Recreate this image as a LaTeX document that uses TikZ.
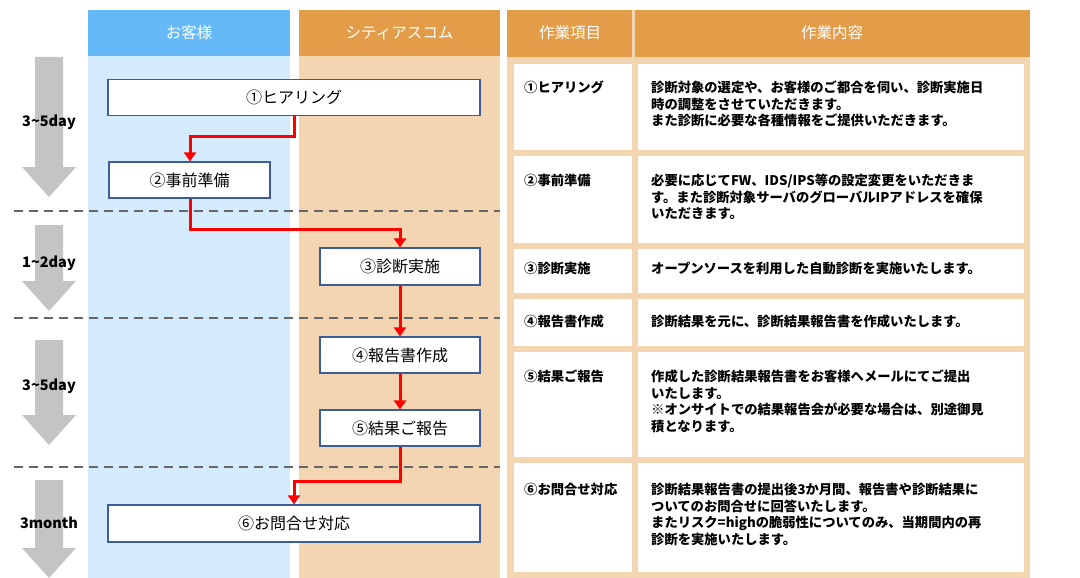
\documentclass[tikz,border=0pt]{standalone}
\usepackage{fontspec}
\setmainfont{Noto Sans CJK JP}
\usetikzlibrary{arrows.meta}
\definecolor{hblue}{HTML}{66B9F7}
\definecolor{bblue}{HTML}{D3EBFC}
\definecolor{horange}{HTML}{E39D48}
\definecolor{borange}{HTML}{F3D5B2}
\definecolor{bdr}{HTML}{3D5C9E}
\definecolor{garrow}{HTML}{C4C4C4}
\tikzset{
 flowbox/.style={draw=bdr,line width=1.2pt,fill=white,inner sep=0pt,font=\fontsize{16}{18}\selectfont},
 hdr/.style={text=white,font=\fontsize{15.5}{17}\selectfont},
 cell/.style={fill=white,draw=none},
 ctext/.style={anchor=north west,align=left,font=\bfseries\fontsize{13.3}{16.5}\selectfont,inner sep=0pt},
 redflow/.style={red,line width=3pt,-{Triangle[length=9pt,width=12pt]}},
 dayl/.style={font=\bfseries\fontsize{14.5}{16}\selectfont},
}
\begin{document}
\begin{tikzpicture}[x=1pt,y=-1pt]
\useasboundingbox (0,0) rectangle (1080,578);
% columns
\fill[hblue] (88,10) rectangle (290,56);
\fill[bblue] (88,56) rectangle (290,578);
\fill[horange] (299,10) rectangle (500,56);
\fill[borange] (299,56) rectangle (500,578);
\node[hdr] (hc) at (189,33) {お客様};
\node[hdr] (hs) at (399.5,33) {シティアスコム};
% table
\fill[borange] (507,10) rectangle (1030,578);
\fill[horange] (507,10) rectangle (632,57);
\fill[horange] (635,10) rectangle (1030,57);
\node[hdr] (h1) at (570,33) {作業項目};
\node[hdr] (h2) at (832,33) {作業内容};
\foreach \a/\b in {64/150,156/243,249/293,299/346,352/457,463/572}{
 \fill[cell] (514,\a) rectangle (632,\b);
 \fill[cell] (638,\a) rectangle (1024,\b);
}
\node[ctext] (l1) at (524,81) {①ヒアリング};
\node[ctext] (l2) at (524,174) {②事前準備};
\node[ctext] (l3) at (524,262) {③診断実施};
\node[ctext] (l4) at (524,315) {④報告書作成};
\node[ctext] (l5) at (524,370) {⑤結果ご報告};
\node[ctext] (l6) at (524,483) {⑥お問合せ対応};
\node[ctext] (r1) at (651,81) {診断対象の選定や、お客様のご都合を伺い、診断実施日\\時の調整をさせていただきます。\\また診断に必要な各種情報をご提供いただきます。};
\node[ctext] (r2) at (651,174) {必要に応じてFW、IDS/IPS等の設定変更をいただきま\\す。また診断対象サーバのグローバルIPアドレスを確保\\いただきます。};
\node[ctext] (r3) at (651,262) {オープンソースを利用した自動診断を実施いたします。};
\node[ctext] (r4) at (651,315) {診断結果を元に、診断結果報告書を作成いたします。};
\node[ctext] (r5) at (651,370) {作成した診断結果報告書をお客様へメールにてご提出\\いたします。\\※オンサイトでの結果報告会が必要な場合は、別途御見\\積となります。};
\node[ctext] (r6) at (651,483) {診断結果報告書の提出後3か月間、報告書や診断結果に\\ついてのお問合せに回答いたします。\\またリスク=highの脆弱性についてのみ、当期間内の再\\診断を実施いたします。};
% dashed
\foreach \y in {211,318,467}
 \draw[dash pattern=on 9pt off 6pt,line width=1.2pt,color=black!60] (14,\y) -- (500,\y);
% gray arrows
\foreach \a/\b in {57/197,225/311,340/445,480/578}{
 \fill[garrow] (35,\a) -- (63,\a) -- (63,\b-30) -- (76,\b-30) -- (49,\b) -- (22,\b-30) -- (35,\b-30) -- cycle;
}
\node[dayl] (d1) at (49,122) {3\textasciitilde5day};
\node[dayl] (d2) at (49,263) {1\textasciitilde2day};
\node[dayl] (d3) at (49,386) {3\textasciitilde5day};
\node[dayl] (d4) at (49,523) {3month};
% flow boxes
\node[flowbox,minimum width=372pt,minimum height=36pt] (n1) at (294,97.5) {①ヒアリング};
\node[flowbox,minimum width=161pt,minimum height=36pt] (n2) at (189.5,180) {②事前準備};
\node[flowbox,minimum width=160pt,minimum height=37pt] (n3) at (400,266.5) {③診断実施};
\node[flowbox,minimum width=160pt,minimum height=36pt] (n4) at (400,355) {④報告書作成};
\node[flowbox,minimum width=160pt,minimum height=36pt] (n5) at (400,428) {⑤結果ご報告};
\node[flowbox,minimum width=372pt,minimum height=37pt] (n6) at (294,523.5) {⑥お問合せ対応};
% red connectors
\draw[redflow] (n1.south -| 294,0) |- (190,136) -- (n2.north -| 190,0);
\draw[redflow] (n2.south -| 190,0) |- (400,229) -- (n3.north);
\draw[redflow] (n3.south) -- (n4.north);
\draw[redflow] (n4.south) -- (n5.north);
\draw[redflow] (n5.south) |- (294,481) -- (n6.north);
\end{tikzpicture}
\end{document}
